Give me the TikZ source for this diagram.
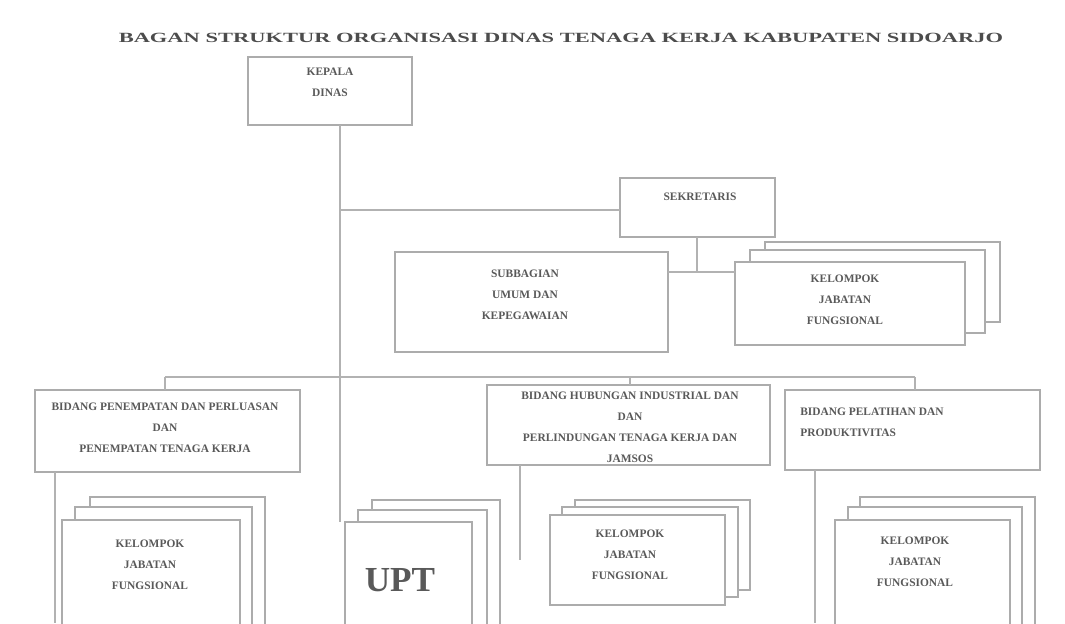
\documentclass[tikz,border=0pt]{standalone}
\usepackage{fontspec}
\setmainfont{Liberation Serif}
\usetikzlibrary{positioning}
\begin{document}
\begin{tikzpicture}[x=0.02cm,y=-0.02cm,
  box/.style={draw=gray!65,line width=1.6pt,fill=white},
  conn/.style={draw=gray!60,line width=1.4pt},
  txt/.style={font=\bfseries\fontsize{6.5}{9}\selectfont,text=black!65,align=center,inner sep=0pt},
  ttl/.style={font=\bfseries\fontsize{8}{10}\selectfont,text=black!70,inner sep=0pt}]
\useasboundingbox (0,0) rectangle (1065,623);
% title
\node[ttl] (title) at (561,38) {\scalebox{1.6}[1]{BAGAN STRUKTUR ORGANISASI DINAS TENAGA KERJA KABUPATEN SIDOARJO}};
% Kepala
\draw[box] (248,57) rectangle (412,125);
\node[txt] (kepala) at (330,82) {KEPALA\\[3pt]DINAS};
\coordinate (kb) at (340,125);
% Sekretaris
\draw[box] (620,178) rectangle (775,237);
\node[txt] (sek) at (700,197) {SEKRETARIS};
\coordinate (sekL) at (620,210);
\coordinate (sekB) at (697,237);
% Subbagian
\draw[box] (395,252) rectangle (668,352);
\node[txt] (sub) at (525,295) {SUBBAGIAN\\[3pt]UMUM DAN\\[3pt]KEPEGAWAIAN};
\coordinate (subR) at (668,272);
% KJF upper (stacked)
\draw[box] (765,242) rectangle (1000,322);
\draw[box] (750,250) rectangle (985,333);
\draw[box] (735,262) rectangle (965,345);
\node[txt] (kjf0) at (845,300) {KELOMPOK\\[3pt]JABATAN\\[3pt]FUNGSIONAL};
\coordinate (kjfL) at (735,272);
% bus
\coordinate (busL) at (165,377);
\coordinate (busR) at (915,377);
% Bidang left
\draw[box] (35,390) rectangle (300,472);
\node[txt] (b1) at (165,428) {BIDANG PENEMPATAN DAN PERLUASAN\\[3pt]DAN\\[3pt]PENEMPATAN TENAGA KERJA};
% Bidang middle
\draw[box] (487,385) rectangle (770,465);
\node[txt] (b2) at (630,427) {BIDANG HUBUNGAN INDUSTRIAL DAN\\[3pt]DAN\\[3pt]PERLINDUNGAN TENAGA KERJA DAN\\[3pt]JAMSOS};
% Bidang right
\draw[box] (785,390) rectangle (1040,470);
\node[txt,align=left,anchor=west] (b3) at (800,422) {BIDANG PELATIHAN DAN\\[3pt]PRODUKTIVITAS};
% bottom left stack
\draw[box] (90,497) rectangle (265,640);
\draw[box] (75,507) rectangle (252,640);
\draw[box] (62,520) rectangle (240,640);
\node[txt] (k1) at (150,565) {KELOMPOK\\[3pt]JABATAN\\[3pt]FUNGSIONAL};
% UPT stack
\draw[box] (372,500) rectangle (500,640);
\draw[box] (358,510) rectangle (487,640);
\draw[box] (345,522) rectangle (472,640);
\node[font=\bfseries\fontsize{20}{22}\selectfont,text=black!65,inner sep=0pt] (upt) at (400,580) {UPT};
% bottom middle stack
\draw[box] (575,500) rectangle (750,590);
\draw[box] (562,507) rectangle (738,597);
\draw[box] (550,515) rectangle (725,605);
\node[txt] (k2) at (630,555) {KELOMPOK\\[3pt]JABATAN\\[3pt]FUNGSIONAL};
% bottom right stack
\draw[box] (860,497) rectangle (1035,640);
\draw[box] (848,507) rectangle (1022,640);
\draw[box] (835,520) rectangle (1010,640);
\node[txt] (k3) at (915,562) {KELOMPOK\\[3pt]JABATAN\\[3pt]FUNGSIONAL};
% connectors
\draw[conn] (kb) -- (340,522);
\draw[conn] (340,210) -- (sekL);
\draw[conn] (sekB) -- (697,272);
\draw[conn] (subR) -- (kjfL);
\draw[conn] (busL) -- (busR);
\draw[conn] (busL) -- (165,390);
\draw[conn] (busR) -- (915,390);
\draw[conn] (630,377) -- (630,385);
\draw[conn] (55,472) -- (55,623);
\draw[conn] (520,465) -- (520,560);
\draw[conn] (815,470) -- (815,623);
\end{tikzpicture}
\end{document}
